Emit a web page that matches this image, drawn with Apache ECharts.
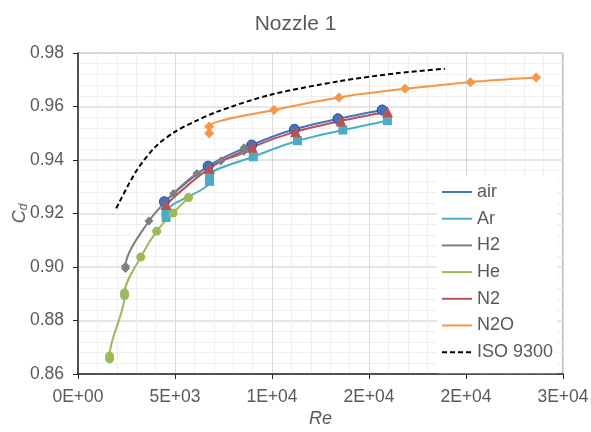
<!DOCTYPE html>
<html>
<head>
<meta charset="utf-8">
<script src="https://cdn.jsdelivr.net/npm/echarts@6/dist/echarts.min.js"></script>
<style>html,body{margin:0;padding:0;background:#fff;}#c{width:591px;height:432px;}</style>
</head>
<body>
<div id="c"></div>
<script>
// ---- data ----
const xTickValues = [0, 5000, 10000, 15000, 20000, 25000];
const xTickLabels = ['0E+00', '5E+03', '1E+04', '2E+04', '2E+04', '3E+04'];
const yTickLabels = ['0.86', '0.88', '0.90', '0.92', '0.94', '0.96', '0.98'];

const seriesNames = ['air', 'Ar', 'H2', 'He', 'N2', 'N2O', 'ISO 9300'];

const air = [[4450,0.9244],[6709,0.9377],[8952,0.9456],[11159,0.9515],[13398,0.9554],[15678,0.9587]];
const Ar  = [[4540,0.9185],[4540,0.9205],[6776,0.9320],[6776,0.9342],[9035,0.9412],[11315,0.9472],[13655,0.9512],[15950,0.9547]];
const H2  = [[2449,0.8994],[2449,0.9003],[3660,0.9172],[4928,0.9275],[6130,0.9350],[7361,0.9396],[8557,0.9433],[8557,0.9446]];
const He  = [[1627,0.8657],[1627,0.8667],[2397,0.8893],[2397,0.8903],[3234,0.9037],[4055,0.9134],[4897,0.9202],[5698,0.9260]];
const N2  = [[4540,0.9234],[6776,0.9369],[8983,0.9448],[11210,0.9506],[13552,0.9546],[15950,0.9580]];
const N2O = [[6760,0.9500],[6760,0.9525],[10101,0.9587],[13450,0.9634],[16858,0.9666],[20224,0.9691],[23614,0.9708]];
const ISO = [[1971,0.9219],[2998,0.9358],[4000,0.9450],[4964,0.9504],[5990,0.9543],[7187,0.9581],[9928,0.9644],[13434,0.9694],[16513,0.9725],[18912,0.9741]];

const FONT = 'Liberation Sans, Arial, Helvetica, sans-serif';
const TXT = '#595959';

function mk(name, data, color, symbol, size, extra) {
  return Object.assign({
    name: name,
    type: 'line',
    data: data,
    smooth: 0.3,
    symbol: symbol,
    symbolSize: size,
    showSymbol: symbol !== 'none',
    lineStyle: { color: color, width: 2 },
    itemStyle: { color: color },
    emphasis: { disabled: true }
  }, extra || {});
}

const chart = echarts.init(document.getElementById('c'), null, { renderer: 'canvas' });
chart.setOption({
  animation: false,
  backgroundColor: '#fff',
  title: {
    text: 'Nozzle 1',
    left: 'center',
    top: 9,
    textStyle: { fontFamily: FONT, fontSize: 21, fontWeight: 'normal', color: TXT }
  },
  grid: {
    left: 78, right: 28, top: 53, bottom: 58,
    outerBoundsMode: 'none',
    containLabel: false,
    show: true, borderColor: '#7f7f7f', borderWidth: 1, backgroundColor: 'transparent'
  },
  legend: {
    orient: 'vertical',
    left: 437,
    top: 176,
    padding: [7, 4, 12, 4],
    backgroundColor: '#ffffff',
    itemWidth: 30,
    itemHeight: 14,
    itemGap: 8.7,
    selectedMode: false,
    itemStyle: { opacity: 0 },
    textStyle: { fontFamily: FONT, fontSize: 18, color: TXT },
    data: seriesNames
  },
  xAxis: {
    type: 'value',
    min: 0, max: 25000, interval: 5000,
    name: 'Re',
    nameLocation: 'middle',
    nameGap: 36,
    nameMoveOverlap: false,
    nameTextStyle: { fontFamily: FONT, fontSize: 18, fontStyle: 'italic', color: TXT },
    axisLine: { show: true, onZero: false, lineStyle: { color: '#262626', width: 1.5 } },
    axisTick: { show: true, length: 5, lineStyle: { color: '#262626' } },
    axisLabel: {
      fontFamily: FONT, fontSize: 17.5, color: TXT, margin: 14,
      formatter: function (v) { const i = xTickValues.indexOf(Math.round(v)); return i >= 0 ? xTickLabels[i] : ''; }
    },
    splitLine: { show: true, lineStyle: { color: '#d9d9d9', width: 1 } },
    minorTick: { show: false, splitNumber: 5 },
    minorSplitLine: { show: true, lineStyle: { color: '#efefef', width: 1 } }
  },
  yAxis: {
    type: 'value',
    min: 0.86, max: 0.98, interval: 0.02,
    name: '{c|C}{d|d}',
    nameLocation: 'middle',
    nameRotate: 90,
    nameGap: 48,
    nameMoveOverlap: false,
    nameTextStyle: {
      color: TXT,
      rich: {
        c: { fontFamily: FONT, fontSize: 18, fontStyle: 'italic', color: TXT },
        d: { fontFamily: FONT, fontSize: 12, fontStyle: 'italic', color: TXT, padding: [9, 0, 0, 0] }
      }
    },
    axisLine: { show: true, onZero: false, lineStyle: { color: '#262626', width: 1.5 } },
    axisTick: { show: true, length: 5, lineStyle: { color: '#262626' } },
    axisLabel: {
      fontFamily: FONT, fontSize: 17.5, color: TXT, margin: 14,
      formatter: function (v) { const i = Math.round((v - 0.86) / 0.02); return yTickLabels[i] || ''; }
    },
    splitLine: { show: true, lineStyle: { color: '#dedede', width: 1.5 } },
    minorTick: { show: false, splitNumber: 5 },
    minorSplitLine: { show: true, lineStyle: { color: '#efefef', width: 1 } }
  },
  series: [
    mk('air', air, '#4472C4', 'circle', 10, { itemStyle: { color: '#4472C4', borderColor: '#2F4F8F', borderWidth: 1 } }),
    mk('Ar', Ar, '#4BACC6', 'rect', 9),
    mk('H2', H2, '#7F7F7F', 'diamond', 9),
    mk('He', He, '#9BBB59', 'circle', 9),
    mk('N2', N2, '#C0504D', 'triangle', 11),
    mk('N2O', N2O, '#F79646', 'diamond', 10),
    mk('ISO 9300', ISO, '#000000', 'none', 0, { lineStyle: { color: '#000000', width: 2, type: [5, 3] }, itemStyle: { color: '#000000' }, smooth: 0.3 })
  ]
});
</script>
</body>
</html>
